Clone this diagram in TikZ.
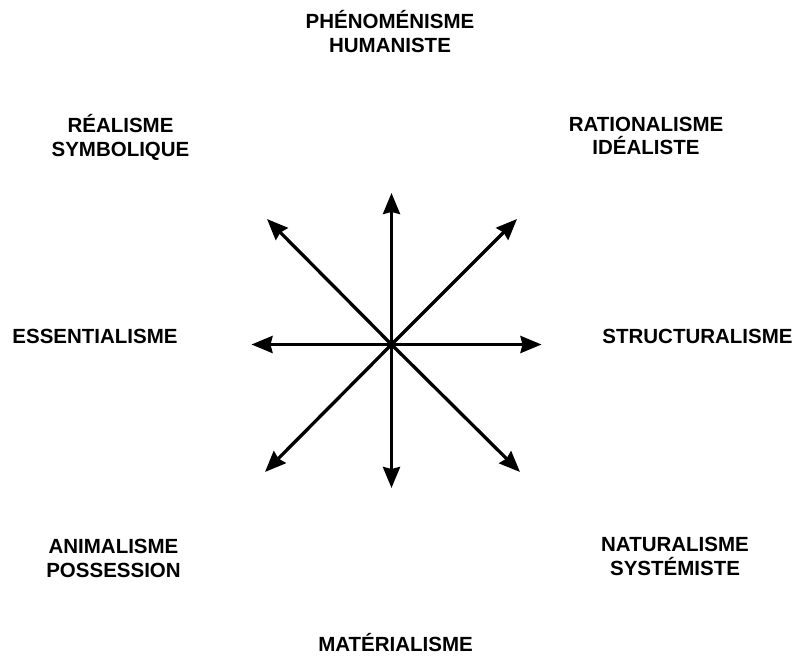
\documentclass[tikz,border=0pt]{standalone}
\usepackage{fontspec}
\setmainfont{Liberation Sans}
\usetikzlibrary{arrows.meta}
\tikzset{
  doctrine/.style={font=\fontsize{20.5}{24}\selectfont\bfseries, align=center, anchor=base, inner sep=0pt},
  fleche/.style={-{Stealth[length=21pt, width=17pt, inset=2pt]}, line width=3.3pt, draw=black},
}
\begin{document}
\begin{tikzpicture}[x=1pt, y=-1pt]
        \useasboundingbox (0,0) rectangle (794,655);
        % ---------------- etoile ----------------
        \coordinate (centre) at (391.5,344.5);
        \coordinate (n) at (391.5,193);
        \coordinate (s) at (391.5,488);
        \coordinate (w) at (251.5,344.5);
        \coordinate (e) at (541.5,344.5);
        \coordinate (nw) at (267,219);
        \coordinate (ne) at (517,219);
        \coordinate (sw) at (265,472);
        \coordinate (se) at (520,472);
        \foreach \t in {n,ne,e,se,s,sw,w,nw} {\draw[fleche] (centre) -- (\t);}
        % ---------------- doctrines ----------------
        \node[doctrine] (pheno) at (390,52.5) {PHÉNOMÉNISME\\ HUMANISTE};
        \node[doctrine] (realisme) at (120.5,157) {RÉALISME\\ SYMBOLIQUE};
        \node[doctrine] (rationalisme) at (646,155) {RATIONALISME\\ IDÉALISTE};
        \node[doctrine] (essentialisme) at (95,343) {ESSENTIALISME};
        \node[doctrine] (structuralisme) at (697.5,343) {STRUCTURALISME};
        \node[doctrine] (animalisme) at (113.5,577) {ANIMALISME\\ POSSESSION};
        \node[doctrine] (naturalisme) at (675,575.5) {NATURALISME\\ SYSTÉMISTE};
        \node[doctrine] (materialisme) at (395.5,651) {MATÉRIALISME};
    \end{tikzpicture}
\end{document}
